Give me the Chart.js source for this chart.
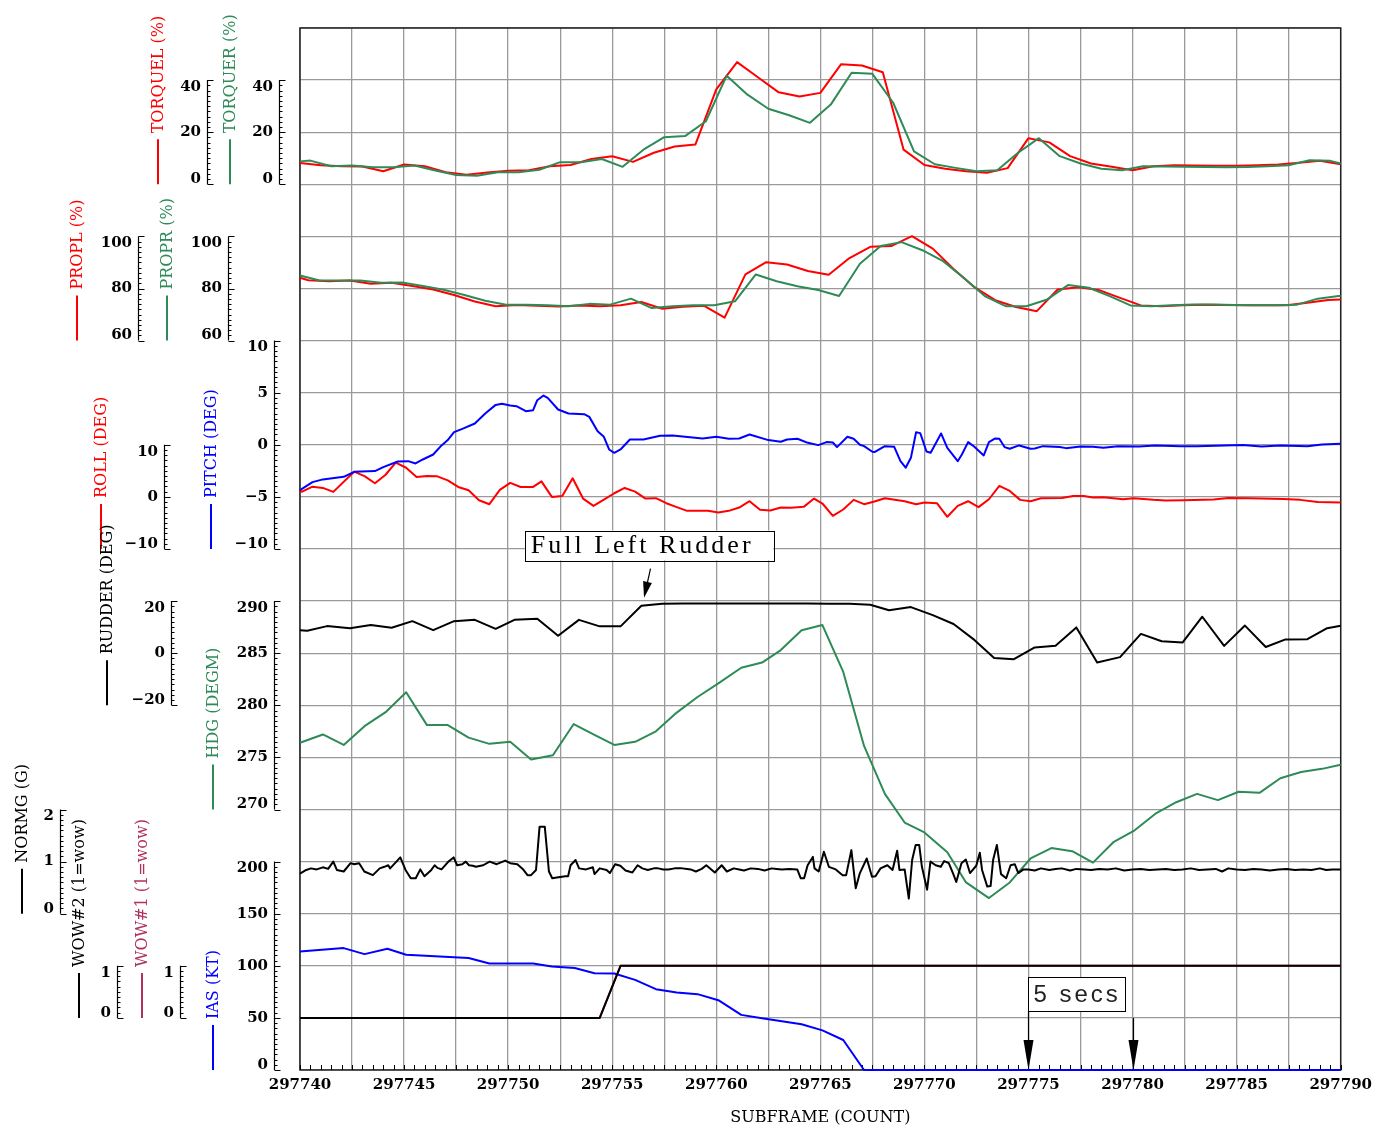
<!DOCTYPE html>
<html><head><meta charset="utf-8">
<script src="https://cdn.jsdelivr.net/npm/chart.js@4.4.1/dist/chart.umd.min.js"></script>
<style>html,body{margin:0;padding:0;background:#fff}canvas{display:block}</style>
</head><body>
<canvas id="c" width="1378" height="1128"></canvas>
<script>
// ---------------- DATA ----------------
const SUBFRAME_LABELS = [297740, 297745, 297750, 297755, 297760, 297765, 297770, 297775, 297780, 297785, 297790];

const TORQUEL_X = [297740,297741,297742,297743,297744,297745,297746,297747,297748,297749,297750,297751,297752,297753,297754,297755,297756,297757,297758,297759,297760,297761,297762,297763,297764,297765,297766,297767,297768,297769,297770,297771,297772,297773,297774,297775,297776,297777,297778,297779,297780,297781,297782,297783,297784,297785,297786,297787,297788,297789,297790];
const TORQUEL = [8.2,7.3,6.9,6.8,5.0,7.6,6.9,4.6,3.7,4.5,5.2,5.4,6.9,7.4,9.7,10.8,8.6,12.1,14.5,15.3,36.4,46.9,41.1,35.3,33.7,35.1,46.1,45.6,43.0,13.3,7.4,6.0,5.0,4.4,6.2,17.7,16.1,10.8,8.0,6.7,5.4,6.9,7.3,7.2,7.1,7.1,7.3,7.6,8.3,9.0,7.7];

const TORQUER_X = [297740,297740.5,297741.5,297742.5,297743.5,297744.5,297745.5,297746.5,297747.5,297748.5,297749.5,297750.5,297751.5,297752.5,297753.5,297754.5,297755.5,297756.5,297757.5,297758.5,297759.5,297760.5,297761.5,297762.5,297763.5,297764.5,297765.5,297766.5,297767.5,297768.5,297769.5,297770.5,297771.5,297772.5,297773.5,297774.5,297775.5,297776.5,297777.5,297778.5,297779.5,297780.5,297781.5,297782.5,297783.5,297784.5,297785.5,297786.5,297787.5,297788.5,297789.5,297790];
const TORQUER = [8.8,9.1,6.9,7.2,6.5,6.5,7.2,5.3,3.6,3.3,4.6,4.6,5.6,8.5,8.5,9.7,6.7,13.3,18.1,18.5,24.2,41.7,34.4,29.0,26.5,23.6,30.6,42.8,42.4,31.3,12.6,7.7,6.3,5.0,5.4,12.1,17.7,10.8,8.0,6.0,5.4,6.9,6.8,6.7,6.6,6.5,6.6,6.9,7.3,9.2,9.0,8.0];

const PROPL_X = [297740,297740.4,297741.4,297742.4,297743.4,297744.4,297745.4,297746.4,297747.4,297748.4,297749.4,297750.4,297751.4,297752.4,297753.4,297754.4,297755.4,297756.4,297757.4,297758.4,297759.4,297760.4,297761.4,297762.4,297763.4,297764.4,297765.4,297766.4,297767.4,297768.4,297769.4,297770.4,297771.4,297772.4,297773.4,297774.4,297775.4,297776.4,297777.4,297778.4,297779.4,297780.4,297781.4,297782.4,297783.4,297784.4,297785.4,297786.4,297787.4,297788.4,297789.4,297790];
const PROPL = [84.1,83.2,82.8,83.1,81.8,82.2,81.0,79.6,77.5,75.0,73.2,73.7,73.4,73.1,73.5,73.2,73.6,74.8,72.2,73.0,73.4,68.8,85.4,90.1,89.2,86.7,85.3,91.7,96.0,96.3,100.1,95.3,87.5,80.5,75.5,72.9,71.3,79.6,80.5,79.4,76.4,73.5,73.2,73.6,73.8,73.7,73.6,73.6,73.6,74.5,75.6,75.8];

const PROPR_X = [297740,297740.9,297741.9,297742.9,297743.9,297744.9,297745.9,297746.9,297747.9,297748.9,297749.9,297750.9,297751.9,297752.9,297753.9,297754.9,297755.9,297756.9,297757.9,297758.9,297759.9,297760.9,297761.9,297762.9,297763.9,297764.9,297765.9,297766.9,297767.9,297768.9,297769.9,297770.9,297771.9,297772.9,297773.9,297774.9,297775.9,297776.9,297777.9,297778.9,297779.9,297780.9,297781.9,297782.9,297783.9,297784.9,297785.9,297786.9,297787.9,297788.9,297789.9,297790];
const PROPR = [85.0,83.2,83.1,83.1,82.2,82.3,81.0,79.5,77.5,75.3,73.8,73.8,73.6,73.2,74.1,73.8,76.1,72.5,73.2,73.6,73.6,75.1,85.4,82.8,80.9,79.4,77.1,89.5,96.3,97.8,94.7,90.5,84.0,77.1,73.2,73.2,75.8,81.3,80.3,77.1,73.5,73.2,73.6,73.9,73.9,73.7,73.6,73.6,73.8,76.1,77.1,77.1];

const PITCH = [[297740,-4.35],[297740.6,-3.58],[297741.1,-3.32],[297742.1,-3.07],[297742.6,-2.59],[297743.6,-2.52],[297744,-2.14],[297744.7,-1.60],[297745.2,-1.57],[297745.55,-1.79],[297745.9,-1.41],[297746.4,-0.93],[297746.8,-0.06],[297747.1,0.45],[297747.4,1.21],[297747.8,1.53],[297748.4,2.04],[297748.9,3.0],[297749.4,3.83],[297749.7,3.93],[297750.1,3.77],[297750.4,3.71],[297750.85,3.23],[297751.2,3.32],[297751.4,4.28],[297751.7,4.73],[297751.9,4.5],[297752.4,3.39],[297752.9,3.0],[297753.65,2.94],[297753.9,2.68],[297754.3,1.31],[297754.6,0.77],[297754.85,-0.45],[297755.1,-0.77],[297755.4,-0.45],[297755.85,0.51],[297756.5,0.51],[297757.3,0.86],[297757.9,0.89],[297758.5,0.77],[297759.35,0.61],[297760,0.77],[297760.6,0.58],[297761.1,0.61],[297761.6,0.99],[297762.5,0.45],[297763.1,0.29],[297763.4,0.51],[297763.9,0.58],[297764.4,0.19],[297764.9,-0.03],[297765.3,0.26],[297765.6,0.22],[297765.8,-0.22],[297766.3,0.77],[297766.6,0.58],[297766.9,0],[297767.1,-0.13],[297767.5,-0.67],[297767.6,-0.7],[297768.1,-0.13],[297768.55,-0.19],[297768.85,-1.57],[297769.1,-2.2],[297769.35,-1.25],[297769.6,1.21],[297769.8,1.12],[297770.1,-0.64],[297770.3,-0.77],[297770.8,1.09],[297771.1,-0.29],[297771.6,-1.57],[297771.8,-0.93],[297772.1,0.26],[297772.4,-0.19],[297772.85,-1.02],[297773.1,0.26],[297773.4,0.61],[297773.6,0.58],[297773.85,-0.22],[297774.1,-0.38],[297774.55,-0.06],[297775.1,-0.38],[297775.3,-0.35],[297775.7,-0.13],[297776.5,-0.22],[297776.8,-0.32],[297777.5,-0.16],[297778.1,-0.19],[297778.6,-0.29],[297779.3,-0.13],[297780.3,-0.16],[297781.1,-0.06],[297782.3,-0.13],[297783.1,-0.13],[297784.4,-0.06],[297785.3,-0.03],[297786.2,-0.16],[297787.1,-0.06],[297788.4,-0.13],[297789.1,0.03],[297790,0.10]];

const ROLL = [[297740,1.15],[297740.1,1.0],[297740.6,1.97],[297741.1,1.72],[297741.6,0.96],[297742.6,4.84],[297743.1,4.0],[297743.6,2.61],[297744.1,4.2],[297744.6,6.56],[297745.1,5.6],[297745.6,3.82],[297746.1,4.0],[297746.6,3.95],[297747.1,3.18],[297747.6,1.91],[297748.1,1.27],[297748.6,-0.64],[297749.1,-1.4],[297749.6,1.34],[297750.1,2.68],[297750.6,1.91],[297751.2,1.91],[297751.6,2.99],[297752.1,0],[297752.6,0.19],[297753.1,3.57],[297753.6,-0.32],[297754.1,-1.72],[297754.6,-0.51],[297755.1,0.7],[297755.6,1.72],[297756.1,1.02],[297756.6,-0.32],[297757.1,-0.25],[297757.6,-1.21],[297758.1,-1.97],[297758.6,-2.68],[297759.1,-2.68],[297759.6,-2.68],[297760.1,-2.99],[297760.6,-2.68],[297761.1,-2.04],[297761.6,-0.83],[297762.1,-2.48],[297762.6,-2.61],[297763.1,-2.04],[297763.6,-2.1],[297764.2,-1.91],[297764.7,-0.32],[297765.1,-1.27],[297765.6,-3.63],[297766.1,-2.42],[297766.6,-0.57],[297767.1,-1.4],[297767.6,-0.89],[297768.1,-0.25],[297769.05,-0.83],[297769.6,-1.4],[297770,-1.08],[297770.6,-1.21],[297771.1,-3.82],[297771.6,-1.72],[297772.1,-0.83],[297772.6,-1.97],[297773.1,-0.45],[297773.6,2.1],[297774.1,1.15],[297774.6,-0.57],[297775.1,-0.83],[297775.6,-0.25],[297776.6,-0.19],[297777.15,0.19],[297777.65,0.19],[297778.1,-0.13],[297778.6,-0.06],[297779.55,-0.45],[297780.05,-0.25],[297781,-0.57],[297781.6,-0.7],[297782.45,-0.64],[297783.9,-0.51],[297784.6,-0.19],[297785.6,-0.25],[297787.25,-0.38],[297788.05,-0.57],[297788.9,-0.96],[297790,-1.08]];

const RUDDER = [[297740,8.85],[297740.35,8.6],[297741.3,10.4],[297742.4,9.6],[297743.4,10.8],[297744.4,9.74],[297745.4,12.3],[297746.4,8.85],[297747.4,12.3],[297748.4,12.8],[297749.4,9.36],[297750.3,12.8],[297751.4,13.2],[297752.4,6.67],[297753.4,12.8],[297754.4,10.3],[297755.4,10.3],[297756.4,18.2],[297757.4,19.0],[297758.4,19.1],[297759.4,19.1],[297760.4,19.1],[297761.4,19.1],[297762.4,19.1],[297763.4,19.1],[297764.4,19.1],[297765.4,19.0],[297766.4,19.0],[297767.4,18.6],[297768.3,16.5],[297769.35,17.7],[297770.4,14.6],[297771.4,11.2],[297772.4,5.1],[297773.35,-1.8],[297774.3,-2.3],[297775.3,2.2],[297776.3,2.9],[297777.3,9.9],[297778.3,-3.6],[297779.4,-1.5],[297780.4,7.4],[297781.4,4.6],[297782.4,4.1],[297783.35,14.0],[297784.4,2.8],[297785.4,10.6],[297786.4,2.4],[297787.35,5.3],[297788.4,5.4],[297789.35,9.6],[297790,10.5]];

const HDG = [[297740,276.4],[297741.1,277.2],[297742.1,276.2],[297743.1,278.0],[297744.15,279.4],[297745.1,281.25],[297746.1,278.1],[297747.1,278.1],[297748.1,276.9],[297749.1,276.3],[297750.1,276.5],[297751.1,274.8],[297752.15,275.2],[297753.15,278.2],[297754.1,277.2],[297755.1,276.2],[297756.1,276.5],[297757.1,277.5],[297758.1,279.3],[297759.1,280.8],[297760.1,282.1],[297761.2,283.6],[297762.2,284.1],[297763.1,285.3],[297764.1,287.2],[297765.1,287.7],[297766.1,283.2],[297767.1,276.1],[297768.1,271.5],[297769.05,268.75],[297770,267.8],[297771.1,265.9],[297772,263.0],[297773.1,261.5],[297774.1,263.0],[297775.1,265.3],[297776.1,266.3],[297777.1,266.0],[297778.1,264.9],[297779.1,266.9],[297780.1,268.0],[297781.1,269.6],[297782.1,270.7],[297783.1,271.5],[297784.1,270.9],[297785.1,271.7],[297786.1,271.6],[297787.1,273.0],[297788.1,273.6],[297789.1,273.9],[297790,274.3]];

const NORMG = [[297740,0.77],[297740.3,0.84],[297740.53,0.87],[297740.8,0.85],[297741.1,0.89],[297741.35,0.86],[297741.6,1.00],[297741.77,0.84],[297742.1,0.81],[297742.43,0.97],[297742.6,0.95],[297742.84,0.97],[297743.09,0.81],[297743.5,0.74],[297743.83,0.87],[297744.05,0.90],[297744.24,0.93],[297744.33,0.87],[297744.82,1.08],[297745.07,0.84],[297745.32,0.68],[297745.56,0.68],[297745.78,0.85],[297745.98,0.72],[297746.31,0.84],[297746.47,0.93],[297746.6,0.88],[297746.8,0.85],[297747.13,1.00],[297747.38,1.08],[297747.55,0.93],[297747.8,0.95],[297747.96,1.00],[297748.12,0.93],[297748.3,0.92],[297748.45,0.90],[297748.8,0.93],[297749.11,1.00],[297749.45,0.95],[297749.86,1.02],[297750.1,0.97],[297750.44,0.95],[297750.7,0.86],[297750.93,0.74],[297751.1,0.74],[297751.34,0.84],[297751.51,1.67],[297751.76,1.67],[297751.96,0.81],[297752.12,0.68],[297752.42,0.70],[297752.75,0.72],[297752.88,0.72],[297753.0,0.93],[297753.24,1.03],[297753.41,0.87],[297753.74,0.85],[297754.07,0.89],[297754.15,0.76],[297754.4,0.87],[297754.73,0.84],[297754.89,0.78],[297755.14,0.95],[297755.39,0.92],[297755.64,0.83],[297755.97,0.79],[297756.22,0.93],[297756.45,0.87],[297756.71,0.84],[297757.0,0.87],[297757.21,0.87],[297757.45,0.85],[297757.7,0.85],[297758.0,0.87],[297758.36,0.87],[297758.6,0.86],[297758.77,0.85],[297759.02,0.81],[297759.3,0.86],[297759.52,0.93],[297759.93,0.79],[297760.26,0.93],[297760.51,0.81],[297760.84,0.87],[297761.1,0.85],[297761.33,0.83],[297761.66,0.87],[297762.0,0.86],[297762.32,0.83],[297762.66,0.87],[297762.9,0.86],[297763.15,0.85],[297763.5,0.86],[297763.89,0.85],[297764.06,0.68],[297764.22,0.68],[297764.39,0.93],[297764.64,1.09],[297764.72,0.87],[297764.92,0.81],[297765.17,1.19],[297765.41,0.90],[297765.74,0.85],[297766.07,0.74],[297766.24,0.74],[297766.49,1.22],[297766.70,0.49],[297766.90,0.78],[297767.23,1.06],[297767.48,0.71],[297767.65,0.72],[297767.89,0.87],[297768.22,0.93],[297768.47,0.84],[297768.69,1.21],[297768.80,0.84],[297769.05,0.85],[297769.25,0.29],[297769.41,1.03],[297769.58,1.32],[297769.75,1.32],[297769.88,0.90],[297770.13,0.46],[297770.29,1.00],[297770.54,0.93],[297770.79,0.90],[297770.95,1.01],[297771.17,0.97],[297771.37,0.78],[297771.53,0.61],[297771.78,0.97],[297771.99,1.04],[297772.19,0.78],[297772.49,0.92],[297772.66,1.17],[297772.77,0.84],[297773.02,0.52],[297773.18,0.53],[297773.30,1.03],[297773.48,1.32],[297773.68,0.76],[297773.93,0.68],[297774.14,0.93],[297774.34,0.95],[297774.51,0.78],[297774.76,0.85],[297775.0,0.85],[297775.3,0.83],[297775.6,0.87],[297776.0,0.84],[297776.3,0.86],[297776.6,0.87],[297777.0,0.83],[297777.3,0.86],[297777.7,0.85],[297778.0,0.84],[297778.4,0.86],[297778.8,0.85],[297779.2,0.87],[297779.6,0.83],[297780.0,0.85],[297780.4,0.86],[297780.8,0.84],[297781.2,0.85],[297781.6,0.86],[297782.0,0.84],[297782.4,0.85],[297782.8,0.87],[297783.2,0.84],[297783.6,0.85],[297784.0,0.86],[297784.3,0.81],[297784.6,0.87],[297785.0,0.85],[297785.4,0.84],[297785.8,0.86],[297786.2,0.85],[297786.6,0.83],[297787.0,0.85],[297787.4,0.86],[297787.8,0.84],[297788.2,0.85],[297788.6,0.84],[297789.0,0.87],[297789.3,0.84],[297789.6,0.85],[297790,0.85]];

const WOW2 = [[297740,0],[297754.4,0],[297755.4,1],[297790,1]];
const WOW1 = [[297740,0],[297754.4,0],[297755.4,1],[297790,1]];

const IAS = [[297740,113.8],[297742.1,117.0],[297743.1,111.2],[297744.2,116.3],[297745.1,110.6],[297748.1,107.4],[297749.1,102.2],[297751.2,102.2],[297752.1,99.4],[297753.2,97.8],[297754.15,92.9],[297755.1,92.6],[297756.1,86.5],[297757.1,77.6],[297758.1,74.4],[297759.1,72.8],[297760.1,67.0],[297761.2,52.9],[297762.2,49.7],[297763.15,46.8],[297764.1,43.9],[297765.1,38.0],[297766.1,28.8],[297767.1,0],[297790,0]];

// side-axis tick labels
const TORQUE_TICKS = [0, 20, 40];
const PROP_TICKS = [60, 80, 100];
const ROLL_TICKS = [-10, 0, 10];
const PITCH_TICKS = [-10, -5, 0, 5, 10];
const RUDDER_TICKS = [-20, 0, 20];
const HDG_TICKS = [270, 275, 280, 285, 290];
const NORMG_TICKS = [0, 1, 2];
const WOW_TICKS = [0, 1];
const IAS_TICKS = [0, 50, 100, 150, 200];

// annotations (text)
const NOTE_RUDDER = 'Full Left Rudder';
const NOTE_SECS = '5 secs';

// ---------------- STYLE ----------------
const RED = '#ff0000', GREEN = '#2e8b57', BLUE = '#0000ff', BLACK = '#000000', MAROON = '#b03060';
const GRID = '#9a9a9a';
const SERIF = '"DejaVu Serif", "Liberation Serif", serif';
const TICK_FONT = 'bold 15px ' + SERIF;
const TITLE_FONT = '16px ' + SERIF;

const fromXY = (xs, ys) => xs.map((x, i) => ({x, y: ys[i]}));
const fromPairs = p => p.map(([x, y]) => ({x, y}));

function ds(label, data, color, axis) {
  return { label, data, borderColor: color, backgroundColor: color, yAxisID: axis, xAxisID: 'x',
           borderWidth: 2, pointRadius: 0, tension: 0, fill: false, borderJoinStyle: 'round', clip: 3 };
}

const datasets = [
  ds('WOW#2', fromPairs(WOW2), BLACK, 'wow2'),
  ds('WOW#1', fromPairs(WOW1), MAROON, 'wow1'),
  ds('IAS', fromPairs(IAS), BLUE, 'ias'),
  ds('NORMG', fromPairs(NORMG), BLACK, 'normg'),
  ds('HDG', fromPairs(HDG), GREEN, 'hdg'),
  ds('RUDDER', fromPairs(RUDDER), BLACK, 'yRudder'),
  ds('PITCH', fromPairs(PITCH), BLUE, 'pitch'),
  ds('ROLL', fromPairs(ROLL), RED, 'yRoll'),
  ds('PROPR', fromXY(PROPR_X, PROPR), GREEN, 'propR'),
  ds('PROPL', fromXY(PROPL_X, PROPL), RED, 'propL'),
  ds('TORQUER', fromXY(TORQUER_X, TORQUER), GREEN, 'torqueR'),
  ds('TORQUEL', fromXY(TORQUEL_X, TORQUEL), RED, 'torqueL'),
];

// side axes: column x, title x (layout)
const SIDE_AXES = [
  {id: 'torqueL', col: 207, tx: 158, ticks: TORQUE_TICKS, title: 'TORQUEL (%)', color: RED},
  {id: 'torqueR', col: 279, tx: 230, ticks: TORQUE_TICKS, title: 'TORQUER (%)', color: GREEN},
  {id: 'propL', col: 138, tx: 77, ticks: PROP_TICKS, title: 'PROPL (%)', color: RED},
  {id: 'propR', col: 228, tx: 167, ticks: PROP_TICKS, title: 'PROPR (%)', color: GREEN},
  {id: 'yRoll', col: 164, tx: 101, ticks: ROLL_TICKS, title: 'ROLL (DEG)', color: RED},
  {id: 'pitch', col: 274, tx: 211, ticks: PITCH_TICKS, title: 'PITCH (DEG)', color: BLUE},
  {id: 'yRudder', col: 171, tx: 107, ticks: RUDDER_TICKS, title: 'RUDDER (DEG)', color: BLACK},
  {id: 'hdg', col: 274, tx: 213, ticks: HDG_TICKS, title: 'HDG (DEGM)', color: GREEN},
  {id: 'normg', col: 60, tx: 22, ticks: NORMG_TICKS, title: 'NORMG (G)', color: BLACK},
  {id: 'wow2', col: 117, tx: 79, ticks: WOW_TICKS, title: 'WOW#2 (1=wow)', color: BLACK},
  {id: 'wow1', col: 180, tx: 142, ticks: WOW_TICKS, title: 'WOW#1 (1=wow)', color: MAROON},
  {id: 'ias', col: 274, tx: 213, ticks: IAS_TICKS, title: 'IAS (KT)', color: BLUE},
];

const fmt = v => (v < 0 ? '\u2212' + Math.abs(v) : String(v));

function arrow(ctx, x0, y0, x1, y1, len, half) {
  const a = Math.atan2(y1 - y0, x1 - x0);
  const bx = x1 - len * Math.cos(a), by = y1 - len * Math.sin(a);
  ctx.beginPath(); ctx.moveTo(x0, y0); ctx.lineTo(bx, by); ctx.stroke();
  ctx.beginPath(); ctx.moveTo(x1, y1);
  ctx.lineTo(bx + half * Math.sin(a), by - half * Math.cos(a));
  ctx.lineTo(bx - half * Math.sin(a), by + half * Math.cos(a));
  ctx.closePath(); ctx.fill();
}

const decor = {
  id: 'decor',
  beforeDatasetsDraw(chart) {
    const {ctx, chartArea: a} = chart;
    const xs = chart.scales.x;
    ctx.save();
    ctx.strokeStyle = '#222'; ctx.lineWidth = 1.5;
    ctx.strokeRect(a.left, a.top, a.right - a.left, a.bottom - a.top);
    ctx.strokeStyle = '#000'; ctx.lineWidth = 1;
    ctx.beginPath();
    for (let v = xs.min; v <= xs.max + 1e-9; v += 0.5) {
      const px = Math.round(xs.getPixelForValue(v)) + 0.5;
      ctx.moveTo(px, a.bottom); ctx.lineTo(px, a.bottom - 5);
    }
    ctx.stroke();
    ctx.restore();
  },
  afterDraw(chart) {
    const {ctx} = chart;
    ctx.save();
    for (const ax of SIDE_AXES) {
      const s = chart.scales[ax.id];
      const t = ax.ticks;
      const lo = t[0], hi = t[t.length - 1];
      const yLo = s.getPixelForValue(lo), yHi = s.getPixelForValue(hi);
      const x = ax.col + 0.5;
      ctx.strokeStyle = '#000'; ctx.lineWidth = 1.2;
      ctx.beginPath();
      ctx.moveTo(x, yHi); ctx.lineTo(x, yLo);
      const step = (t[1] - t[0]) / 10;
      const n = Math.round((hi - lo) / step);
      for (let i = 0; i <= n; i++) {
        const py = Math.round(s.getPixelForValue(lo + i * step)) + 0.5;
        ctx.moveTo(x, py); ctx.lineTo(x + (i % 10 === 0 ? 6 : 3), py);
      }
      ctx.stroke();
      ctx.fillStyle = '#000'; ctx.font = TICK_FONT;
      ctx.textAlign = 'right'; ctx.textBaseline = 'middle';
      t.forEach((v, i) => {
        let py = s.getPixelForValue(v);
        if (i === t.length - 1) py += 7; else if (i === 0) py -= 5;
        ctx.fillText(fmt(v), ax.col - 6, py);
      });
      ctx.save();
      ctx.translate(ax.tx, yLo);
      ctx.rotate(-Math.PI / 2);
      ctx.strokeStyle = ax.color; ctx.lineWidth = 2;
      ctx.beginPath(); ctx.moveTo(0, 0); ctx.lineTo(45, 0); ctx.stroke();
      ctx.fillStyle = ax.color; ctx.font = TITLE_FONT;
      ctx.textAlign = 'left'; ctx.textBaseline = 'middle';
      ctx.fillText(ax.title, 51, 1);
      ctx.restore();
    }

    // annotations positioned through the scales
    const X = chart.scales.x, R = chart.scales.yRudder, I = chart.scales.ias;
    ctx.strokeStyle = '#000'; ctx.fillStyle = '#000'; ctx.lineWidth = 1;
    // Full Left Rudder box
    let bx0 = X.getPixelForValue(297750.8), bx1 = X.getPixelForValue(297762.74);
    let by0 = R.getPixelForValue(47.1), by1 = R.getPixelForValue(35.6);
    ctx.fillStyle = '#fff';
    ctx.fillRect(bx0, by0, bx1 - bx0, by1 - by0);
    ctx.strokeRect(Math.round(bx0) + 0.5, Math.round(by0) + 0.5, Math.round(bx1 - bx0), Math.round(by1 - by0));
    ctx.fillStyle = '#000';
    ctx.font = '26px "Liberation Serif", serif';
    try { ctx.letterSpacing = '3px'; } catch (e) {}
    ctx.textAlign = 'left'; ctx.textBaseline = 'middle';
    ctx.fillText(NOTE_RUDDER, bx0 + 6, (by0 + by1) / 2 + 1);
    try { ctx.letterSpacing = '0px'; } catch (e) {}
    ctx.lineWidth = 1.2;
    arrow(ctx, X.getPixelForValue(297756.84), R.getPixelForValue(32.5),
               X.getPixelForValue(297756.53), R.getPixelForValue(21.3), 16, 4.5);

    // 5 secs box
    bx0 = X.getPixelForValue(297775); bx1 = X.getPixelForValue(297779.68);
    by0 = I.getPixelForValue(89.2); by1 = I.getPixelForValue(56.6);
    ctx.fillStyle = '#fff';
    ctx.fillRect(bx0, by0, bx1 - bx0, by1 - by0);
    ctx.lineWidth = 1;
    ctx.strokeStyle = '#000';
    ctx.strokeRect(Math.round(bx0) + 0.5, Math.round(by0) + 0.5, Math.round(bx1 - bx0), Math.round(by1 - by0));
    ctx.fillStyle = '#222';
    ctx.font = '24px "Liberation Sans", sans-serif';
    try { ctx.letterSpacing = '3px'; } catch (e) {}
    ctx.fillText(NOTE_SECS, bx0 + 5, (by0 + by1) / 2 + 1);
    try { ctx.letterSpacing = '0px'; } catch (e) {}
    ctx.fillStyle = '#000'; ctx.lineWidth = 1.2;
    const ax1 = Math.round(X.getPixelForValue(297775)) + 0.5;
    const ax2 = Math.round(X.getPixelForValue(297780)) + 0.5;
    arrow(ctx, ax1, I.getPixelForValue(56.6), ax1, I.getPixelForValue(0), 30, 5);
    arrow(ctx, ax2, I.getPixelForValue(50), ax2, I.getPixelForValue(0), 30, 5);
    ctx.restore();
  }
};

const hidden = (min, max) => ({ type: 'linear', axis: 'y', position: 'left', display: false, min, max });

new Chart(document.getElementById('c'), {
  type: 'line',
  data: { datasets },
  options: {
    responsive: false, animation: false, devicePixelRatio: 1, events: [],
    layout: { padding: { left: 300, right: 36, top: 28, bottom: 0 } },
    plugins: { legend: { display: false }, tooltip: { enabled: false } },
    elements: { point: { radius: 0 }, line: { tension: 0 } },
    scales: {
      x: {
        type: 'linear', axis: 'x', position: 'bottom', min: 297740, max: 297790,
        ticks: { stepSize: 2.5, autoSkip: false, maxRotation: 0, padding: 6, color: '#000',
                 font: { family: SERIF, size: 15, weight: 'bold' },
                 callback: v => (SUBFRAME_LABELS.includes(v) ? String(v) : '') },
        grid: { color: GRID, lineWidth: 1.3, drawTicks: false },
        border: { display: false },
        title: { display: true, text: 'SUBFRAME (COUNT)', color: '#000',
                 font: { family: SERIF, size: 16 }, padding: { top: 0, bottom: 1 } },
        afterFit: s => { s.height = 58; }
      },
      g: {
        type: 'linear', axis: 'y', position: 'left', min: 0, max: 20,
        ticks: { display: false, stepSize: 1 },
        grid: { color: GRID, lineWidth: 1.3, drawTicks: false },
        border: { display: false },
        afterFit: s => { s.width = 0; }
      },
      torqueL: hidden(-340, 60), torqueR: hidden(-340, 60),
      propL: hidden(-220, 180), propR: hidden(-220, 180),
      yRoll: hidden(-110, 90), pitch: hidden(-60, 40),
      yRudder: hidden(-160, 240), hdg: hidden(245, 345),
      normg: hidden(-3, 17), wow2: hidden(-1, 19), wow1: hidden(-1, 19),
      ias: hidden(0, 1000)
    }
  },
  plugins: [decor]
});
</script>
</body></html>
